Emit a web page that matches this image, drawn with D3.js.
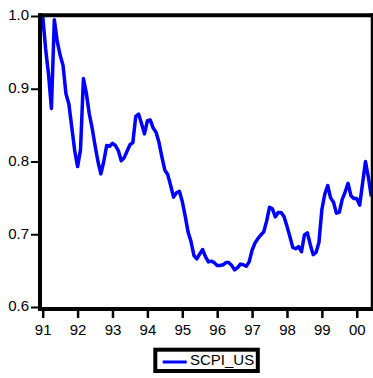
<!DOCTYPE html>
<html>
<head>
<meta charset="utf-8">
<script src="https://cdn.jsdelivr.net/npm/d3@7"></script>
<style>
  html, body { margin: 0; padding: 0; background: #fff; }
  svg { display: block; }
  text { font-family: "Liberation Sans", Arial, sans-serif; font-size: 15px; fill: #000; }
</style>
</head>
<body>
<svg id="chart" width="373" height="378"></svg>
<script>
// Monthly series SCPI_US, 1991:01 - 2000:06
const startYear = 1991;
const seriesName = "SCPI_US";
const scpiUS = [
  1.000, 0.955, 0.920, 0.873, 0.995, 0.965, 0.946, 0.932, 0.893, 0.879, 0.847, 0.815,
  0.793, 0.816, 0.914, 0.894, 0.866, 0.846, 0.822, 0.800, 0.783, 0.800, 0.822, 0.821,
  0.825, 0.822, 0.815, 0.801, 0.805, 0.814, 0.823, 0.826, 0.862, 0.865, 0.852, 0.838,
  0.856, 0.857, 0.846, 0.840, 0.826, 0.806, 0.788, 0.782, 0.767, 0.751, 0.757, 0.759,
  0.745, 0.725, 0.703, 0.690, 0.671, 0.666, 0.673, 0.679, 0.669, 0.662, 0.663, 0.661,
  0.657, 0.657, 0.658, 0.661, 0.661, 0.657, 0.651, 0.654, 0.659, 0.658, 0.656, 0.662,
  0.678, 0.688, 0.694, 0.699, 0.703, 0.718, 0.737, 0.735, 0.724, 0.730, 0.730, 0.724,
  0.711, 0.697, 0.682, 0.680, 0.683, 0.676, 0.699, 0.702, 0.686, 0.672, 0.675, 0.689,
  0.734, 0.755, 0.767, 0.750, 0.744, 0.729, 0.730, 0.748, 0.758, 0.770, 0.753, 0.749,
  0.749, 0.740, 0.770, 0.800, 0.778, 0.752
];
const yTicks = [0.6, 0.7, 0.8, 0.9, 1.0];
const yTickLabels = ["0.6", "0.7", "0.8", "0.9", "1.0"];
const xTicks = [1991, 1992, 1993, 1994, 1995, 1996, 1997, 1998, 1999, 2000];
const xTickLabels = ["91", "92", "93", "94", "95", "96", "97", "98", "99", "00"];

const data = scpiUS.map((v, i) => ({ t: startYear + i / 12, v }));

const svg = d3.select("#chart");
const x = d3.scaleLinear().domain([startYear, startYear + (scpiUS.length - 1) / 12]).range([42.7, 371.3]);
const y = d3.scaleLinear().domain([0.6, 1.0]).range([307, 16]);

// line
const clipId = "plotclip";
svg.append("clipPath").attr("id", clipId)
  .append("rect").attr("x", 40).attr("y", 15).attr("width", 333).attr("height", 294);

svg.append("path")
  .datum(data)
  .attr("clip-path", `url(#${clipId})`)
  .attr("fill", "none")
  .attr("stroke", "#0000ff")
  .attr("stroke-width", 3.5)
  .attr("stroke-linejoin", "round")
  .attr("d", d3.line().x(d => x(d.t)).y(d => y(d.v)));

// frame: top and right
svg.append("line").attr("x1", 38).attr("x2", 373).attr("y1", 15.3).attr("y2", 15.3)
  .attr("stroke", "#000").attr("stroke-width", 4);
svg.append("line").attr("x1", 372).attr("x2", 372).attr("y1", 13.3).attr("y2", 311)
  .attr("stroke", "#000").attr("stroke-width", 2.5);

// left axis
const yAxis = d3.axisLeft(y).tickValues(yTicks).tickFormat((d, i) => yTickLabels[i]).tickSize(9).tickPadding(2);
const gy = svg.append("g").attr("transform", "translate(40,0)").call(yAxis);
gy.select(".domain").attr("d", "M0,13.3V311").attr("stroke", "#000").attr("stroke-width", 4);
gy.selectAll(".tick line").attr("stroke", "#000").attr("stroke-width", 2);
gy.selectAll(".tick text").attr("dy", "0.25em").attr("font-size", 15)
  .attr("font-family", "Liberation Sans, Arial, sans-serif").attr("fill", "#000");

// bottom axis
const xAxis = d3.axisBottom(x).tickValues(xTicks).tickFormat((d, i) => xTickLabels[i]).tickSize(9).tickPadding(6);
const gx = svg.append("g").attr("transform", "translate(0,309)").call(xAxis);
gx.select(".domain").attr("d", "M38,0H373").attr("stroke", "#000").attr("stroke-width", 4);
gx.selectAll(".tick line").attr("stroke", "#000").attr("stroke-width", 2.5);
gx.selectAll(".tick text").attr("font-size", 15)
  .attr("font-family", "Liberation Sans, Arial, sans-serif").attr("fill", "#000");

// legend
const lg = svg.append("g");
lg.append("rect").attr("x", 155.3).attr("y", 349.7).attr("width", 102.5).attr("height", 21.3)
  .attr("fill", "#fff").attr("stroke", "#000").attr("stroke-width", 4);
lg.append("line").attr("x1", 162.7).attr("x2", 186.7).attr("y1", 362).attr("y2", 362)
  .attr("stroke", "#0000ff").attr("stroke-width", 3);
lg.append("text").attr("x", 190).attr("y", 365).text(seriesName);
</script>
</body>
</html>
